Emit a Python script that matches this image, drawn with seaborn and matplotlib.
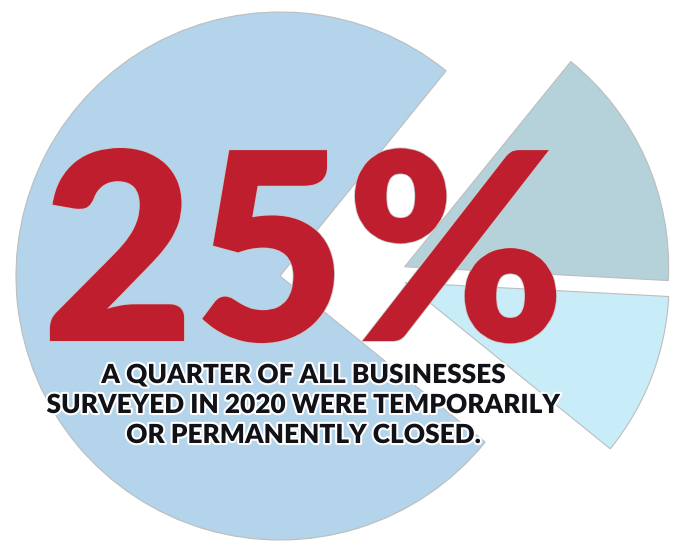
import matplotlib
matplotlib.use("Agg")
import matplotlib.pyplot as plt
import matplotlib.patheffects as pe
import seaborn as sns

# ---- data ----
segments = ["Open", "Permanently closed", "Temporarily closed"]
shares = [75, 10, 15]
colors = ["#B3D4EB", "#C8EDF9", "#B5D2DB"]
headline = "25%"
subtitle_lines = [
    "A QUARTER OF ALL BUSINESSES",
    "SURVEYED IN 2020 WERE TEMPORARILY",
    "OR PERMANENTLY CLOSED.",
]

sns.set_theme(style="white")
plt.rcParams["font.family"] = ["Lato", "DejaVu Sans"]

W, H, DPI = 677, 542, 100
fig = plt.figure(figsize=(W / DPI, H / DPI), dpi=DPI)
ax = fig.add_axes([0, 0, 1, 1])

R_PX = 264.0
CX, CY = 280.0, 276.0

def px2d(x, y):
    return (x - CX) / R_PX, (CY - y) / R_PX

edge = dict(edgecolor="#BDBDBD", linewidth=0.8)

# main (75%) slice
w1, _ = ax.pie(shares, colors=colors, startangle=51, radius=1.0,
               center=(0, 0), wedgeprops=edge)
for w in w1[1:]:
    w.set_visible(False)

# detached 25% group
w2, _ = ax.pie(shares, colors=colors, startangle=51, radius=1.0,
               center=(0.40, 0.003), explode=[0, 0.079, 0.079],
               wedgeprops=edge)
w2[0].set_visible(False)

ax.set_xlim(-CX / R_PX, (W - CX) / R_PX)
ax.set_ylim((CY - H) / R_PX, CY / R_PX)
ax.set_aspect("auto")
ax.axis("off")

# headline
hx, hy = px2d((42 + 565) / 2, 341)
t = ax.text(hx, hy, headline, ha="center", va="baseline", fontsize=180,
            fontweight="heavy", color="#BE1E2D",
            path_effects=[pe.withStroke(linewidth=1.2, foreground="#C9C9C9")])
fig.canvas.draw()
bb = t.get_window_extent()
t.set_fontsize(180 * (565 - 42) / bb.width)

# subtitle
subs = []
for line, base in zip(subtitle_lines, [383, 413, 443]):
    sx, sy = px2d(304, base)
    s = ax.text(sx, sy, line, ha="center", va="baseline", fontsize=17,
                fontweight="heavy", color="#111118",
                path_effects=[pe.withStroke(linewidth=3, foreground="white")])
    subs.append(s)
fig.canvas.draw()
w_line2 = subs[1].get_window_extent().width
fs = 17 * 513 / w_line2
fs = min(fs, 19.0)
for s in subs:
    s.set_fontsize(fs)

fig.savefig("out.png", dpi=DPI)
